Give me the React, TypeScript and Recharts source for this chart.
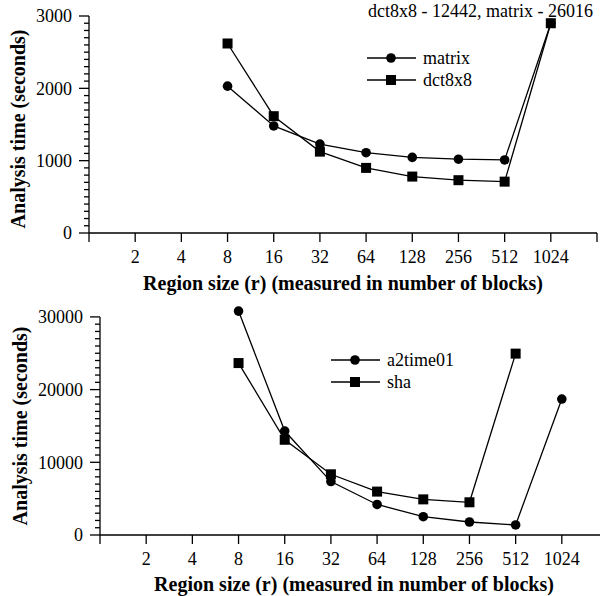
import React from 'react';
import { LineChart, Line, XAxis, YAxis, Label, Legend, ReferenceLine } from 'recharts';

// region sizes (x) shared by both panels; 1 and 2048 are only unlabeled end ticks
const regionSizes = [8, 16, 32, 64, 128, 256, 512, 1024];
const xTicks = [1, 2, 4, 8, 16, 32, 64, 128, 256, 512, 1024, 2048];

// top panel: the 1024 points are drawn clipped at 2900 (real values are in the note)
const matrixTimes = [2030, 1480, 1230, 1110, 1045, 1020, 1010, 2900];
const dct8x8Times = [2620, 1615, 1125, 900, 780, 730, 710, 2900];
const topMajorTicks = [0, 1000, 2000, 3000];
const topNote = 'dct8x8 - 12442, matrix - 26016';

// bottom panel
const a2time01Times = [30800, 14300, 7350, 4200, 2520, 1790, 1380, 18700];
const shaTimes = [23650, 13100, 8350, 5970, 4900, 4500, 24950, null];
const bottomMajorTicks = [0, 10000, 20000, 30000];

const xTitle = 'Region size (r) (measured in number of blocks)';
const yTitle = 'Analysis time (seconds)';

const FONT = "'Liberation Serif', 'DejaVu Serif', 'Times New Roman', Times, serif";
const INK = '#000';

const topData = regionSizes.map((r, i) => ({ r, matrix: matrixTimes[i], dct8x8: dct8x8Times[i] }));
const bottomData = regionSizes.map((r, i) => ({ r, a2time01: a2time01Times[i], sha: shaTimes[i] }));

// minor ticks every tenth of a major step
const minorTicks = (majors: number[]) => {
  const step = (majors[1] - majors[0]) / 10;
  const top = majors[majors.length - 1];
  return Array.from({ length: Math.round(top / step) + 1 }, (_, i) => i * step);
};

const fmtX = (v: number) => (v === 1 || v === 2048 ? '' : String(v));

const makeYTick = (majors: number[]) => (props: any) => {
  const { x, y, payload } = props;
  const isMajor = majors.includes(payload.value);
  return (
    <g>
      <line x1={x - (isMajor ? 10 : 5)} x2={x} y1={y} y2={y} stroke={INK} strokeWidth={1.3} />
      {isMajor && (
        <text x={x - 17} y={y} dy="0.35em" textAnchor="end" style={{ fontFamily: FONT }} fontSize={18} fill={INK}>
          {payload.value}
        </text>
      )}
    </g>
  );
};

const circleDot = (props: any) => {
  const { cx, cy, index } = props;
  if (cx == null || cy == null) return <g key={`c${index}`} />;
  return <circle key={`c${index}`} cx={cx} cy={cy} r={4.8} fill={INK} />;
};

const squareDot = (props: any) => {
  const { cx, cy, index } = props;
  if (cx == null || cy == null) return <g key={`s${index}`} />;
  return <rect key={`s${index}`} x={cx - 5} y={cy - 5} width={10} height={10} fill={INK} />;
};

const LegendBox = ({ items }: { items: { name: string; shape: 'circle' | 'square' }[] }) => (
  <div style={{ fontFamily: FONT, fontSize: 18, color: INK }}>
    {items.map((it) => (
      <div key={it.name} style={{ display: 'flex', alignItems: 'center', height: 22 }}>
        <svg width={49} height={14} style={{ display: 'block' }}>
          <line x1={0} x2={49} y1={7} y2={7} stroke={INK} strokeWidth={1.3} />
          {it.shape === 'circle' ? (
            <circle cx={24} cy={7} r={4.8} fill={INK} />
          ) : (
            <rect x={19} y={2} width={10} height={10} fill={INK} />
          )}
        </svg>
        <span style={{ marginLeft: 7, lineHeight: '22px' }}>{it.name}</span>
      </div>
    ))}
  </div>
);

const xTitleContent = (baseline: number) => (props: any) => {
  const vb = props.viewBox;
  return (
    <text x={vb.x + vb.width / 2} y={vb.y + baseline} textAnchor="middle" style={{ fontFamily: FONT }} fontWeight="bold" fontSize={20} fill={INK}>
      {xTitle}
    </text>
  );
};

// bx = baseline x of the rotated title, cy = its centre inside the chart svg
const yTitleContent = (bx: number, cy: number) => () => (
  <text x={bx} y={cy} transform={`rotate(-90, ${bx}, ${cy})`} textAnchor="middle" style={{ fontFamily: FONT }} fontWeight="bold" fontSize={20} fill={INK}>
    {yTitle}
  </text>
);

const axisCommon = {
  stroke: INK,
  strokeWidth: 1.3,
};

const xTickStyle = { fill: INK, fontSize: 18, fontFamily: FONT };

export default function App() {
  return (
    <div style={{ position: 'absolute', left: 0, top: 0, width: 600, height: 596, overflow: 'hidden', background: '#fff', fontFamily: FONT }}>
      {/* top panel */}
      <div style={{ position: 'absolute', left: 0, top: 0 }}>
        <LineChart width={600} height={296} data={topData} margin={{ top: 16, right: 3, left: 0, bottom: 0 }}>
          <XAxis
            dataKey="r"
            type="number"
            scale="log"
            domain={[1, 2048]}
            ticks={xTicks}
            interval={0}
            allowDataOverflow
            tickFormatter={fmtX}
            height={63}
            tickSize={9}
            tickMargin={8}
            axisLine={axisCommon}
            tickLine={axisCommon}
            tick={xTickStyle}
          >
            <Label content={xTitleContent(57)} />
          </XAxis>
          <YAxis
            type="number"
            domain={[0, 3000]}
            ticks={minorTicks(topMajorTicks)}
            interval={0}
            width={89}
            tickSize={0}
            tickMargin={0}
            axisLine={axisCommon}
            tickLine={false}
            tick={makeYTick(topMajorTicks)}
          >
            <Label content={yTitleContent(25, 129)} />
          </YAxis>
          <Legend
            layout="vertical"
            align="center"
            verticalAlign="middle"
            wrapperStyle={{ left: 367, top: 47, width: 'auto' }}
            content={() => (
              <LegendBox items={[{ name: 'matrix', shape: 'circle' }, { name: 'dct8x8', shape: 'square' }]} />
            )}
          />
          <Line dataKey="matrix" name="matrix" stroke={INK} strokeWidth={1.3} dot={circleDot} activeDot={false} isAnimationActive={false} />
          <Line dataKey="dct8x8" name="dct8x8" stroke={INK} strokeWidth={1.3} dot={squareDot} activeDot={false} isAnimationActive={false} />
        </LineChart>
      </div>
      <div style={{ position: 'absolute', left: 368, top: 0, fontFamily: FONT, fontSize: 18, lineHeight: '22px', color: INK, whiteSpace: 'nowrap' }}>
        {topNote}
      </div>

      {/* bottom panel: the plot runs a bit past 30000 so the 8-block point is not clipped;
          the y axis line itself stops at 30000 */}
      <div style={{ position: 'absolute', left: 0, top: 296 }}>
        <LineChart width={620} height={300} data={bottomData} margin={{ top: 10, right: 12, left: 0, bottom: 0 }}>
          <XAxis
            dataKey="r"
            type="number"
            scale="log"
            domain={[1, 2048]}
            ticks={xTicks}
            interval={0}
            allowDataOverflow
            tickFormatter={fmtX}
            height={61}
            tickSize={9}
            tickMargin={8}
            axisLine={axisCommon}
            tickLine={axisCommon}
            tick={xTickStyle}
          >
            <Label content={xTitleContent(56)} />
          </XAxis>
          <YAxis
            type="number"
            domain={[0, 31500]}
            ticks={minorTicks(bottomMajorTicks)}
            interval={0}
            width={100}
            tickSize={0}
            tickMargin={0}
            axisLine={false}
            tickLine={false}
            tick={makeYTick(bottomMajorTicks)}
          >
            <Label content={yTitleContent(27, 130)} />
          </YAxis>
          <ReferenceLine
            segment={[{ x: 1, y: 0 }, { x: 1, y: 30000 }]}
            stroke={INK}
            strokeWidth={1.3}
          />
          <Legend
            layout="vertical"
            align="center"
            verticalAlign="middle"
            wrapperStyle={{ left: 331, top: 53, width: 'auto' }}
            content={() => (
              <LegendBox items={[{ name: 'a2time01', shape: 'circle' }, { name: 'sha', shape: 'square' }]} />
            )}
          />
          <Line dataKey="a2time01" name="a2time01" stroke={INK} strokeWidth={1.3} dot={circleDot} activeDot={false} isAnimationActive={false} />
          <Line dataKey="sha" name="sha" stroke={INK} strokeWidth={1.3} dot={squareDot} activeDot={false} isAnimationActive={false} />
        </LineChart>
      </div>
    </div>
  );
}
